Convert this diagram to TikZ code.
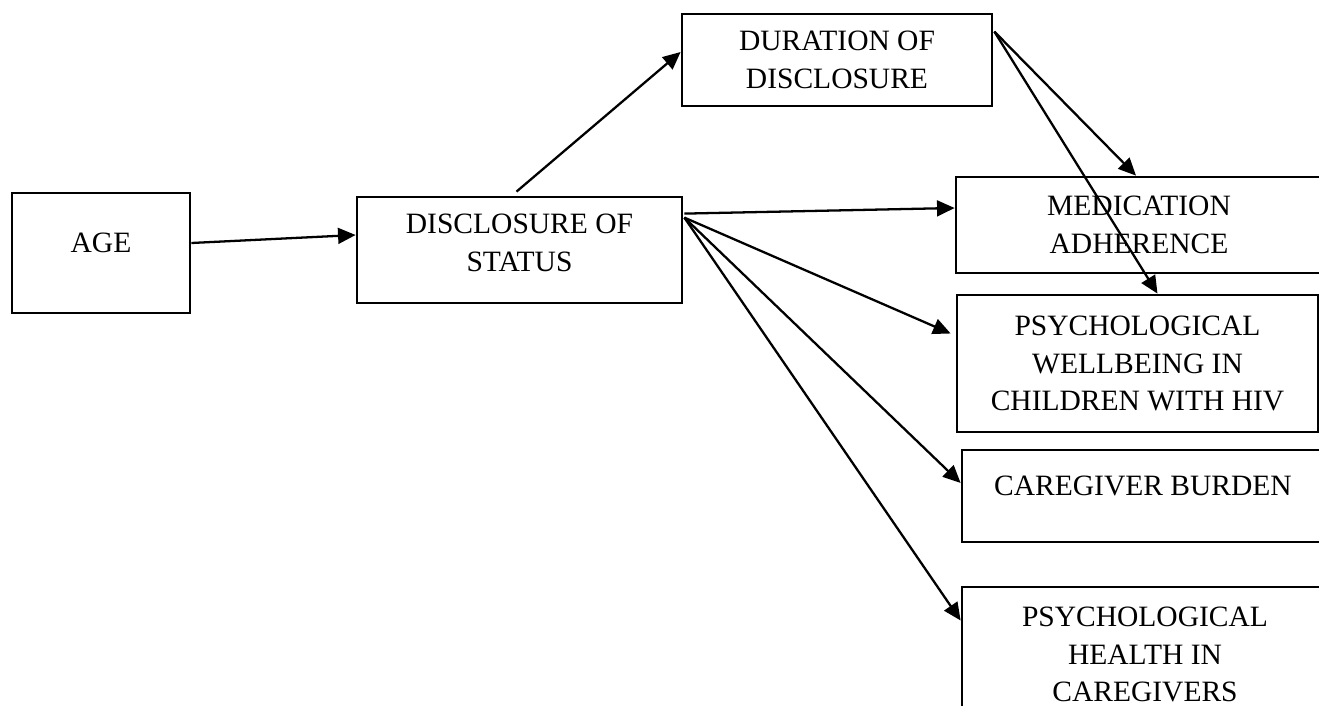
\documentclass[tikz,border=0pt]{standalone}
\usepackage{fontspec}
\setmainfont{Liberation Serif}
\usetikzlibrary{arrows.meta,calc}
\tikzset{>={Triangle[length=10pt,width=9pt]},
	box/.style={% Boxes of the model, text set as in a word processor
		draw, rectangle,
		line width=1.6pt,
		inner sep=0pt,
		align=center,
		font=\fontsize{16.8}{21.5}\selectfont
	},
	link/.style={line width=1.3pt}
}

\begin{document}
\begin{tikzpicture}[x=0.02cm,y=-0.02cm]
			\useasboundingbox (0,0) rectangle (1319,706);
			\node [box, minimum width=3.56cm, minimum height=2.4cm, text depth=11.4pt] (age) at (101,253) {AGE};
			\node [box, minimum width=6.5cm, minimum height=2.12cm, text depth=8pt] (dis) at (519.5,250) {DISCLOSURE OF\\STATUS};
			\node [box, minimum width=6.2cm, minimum height=1.84cm] (dur) at (837,60) {DURATION OF\\DISCLOSURE};
			\node [box, minimum width=7.32cm, minimum height=1.92cm] (med) at (1139,225) {MEDICATION\\ADHERENCE};
			\node [box, minimum width=7.22cm, minimum height=2.74cm] (well) at (1137.5,363.5) {PSYCHOLOGICAL\\WELLBEING IN\\CHILDREN WITH HIV};
			\node [box, minimum width=7.24cm, minimum height=1.84cm, text depth=11.4pt] (care) at (1143,496) {CAREGIVER BURDEN};
			\node [box, minimum width=7.32cm, minimum height=2.7cm] (phc) at (1145,654.5) {PSYCHOLOGICAL\\HEALTH IN\\CAREGIVERS};
			\coordinate (fan) at ($(dis.north east)+(1,22)$);
			\coordinate (durout) at ($(dur.north east)+(1,19)$);
			\draw [->, link] ($(age.east)+(0,-10)$) -- ($(dis.west)+(0,-15)$);
			\draw [->, link] ($(dis.north)+(-3,-4)$) -- ($(dur.west)+(0,-8)$);
			\draw [->, link] ($(dis.north east)+(1,18)$) -- ($(med.west)+(0,-17)$);
			\draw [->, link] (fan) -- ($(well.west)+(-5,-30)$);
			\draw [->, link] (fan) -- ($(care.west)+(0,-13)$);
			\draw [->, link] (fan) -- ($(phc.west)+(0,-34)$);
			\draw [->, link] (durout) -- ($(med.north)+(-3,0)$);
			\draw [->, link] (durout) -- ($(well.north)+(20,0)$);
\end{tikzpicture}
\end{document}
